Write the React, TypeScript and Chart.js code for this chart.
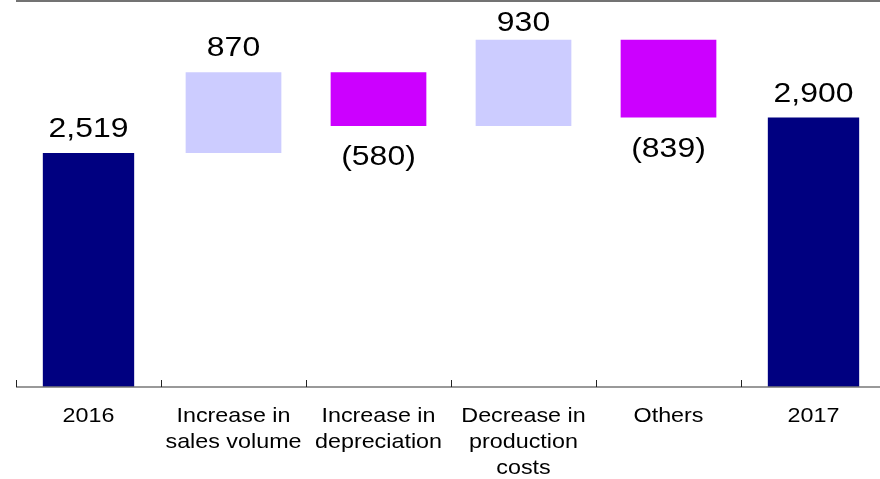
import React, { useEffect, useRef } from "react";
import { Chart, registerables } from "chart.js";

Chart.register(...registerables);

const categories: (string | string[])[] = [
  "2016",
  ["Increase in", "sales volume"],
  ["Increase in", "depreciation"],
  ["Decrease in", "production", "costs"],
  "Others",
  "2017",
];
const startTotal = 2519;
const endTotal = 2900;
const deltas = [870, -580, 930, -839];

const totalColor = "#000080";
const upColor = "#CCCCFF";
const downColor = "#CC00FF";

function fmt(v: number): string {
  const s = Math.abs(v).toLocaleString("en-US");
  return v < 0 ? `(${s})` : s;
}

export default function App() {
  const ref = useRef<HTMLCanvasElement | null>(null);

  useEffect(() => {
    if (!ref.current) return;
    const n = categories.length;
    const totals: ([number, number] | null)[] = new Array(n).fill(null);
    totals[0] = [0, startTotal];
    totals[n - 1] = [0, endTotal];
    const changes: ([number, number] | null)[] = new Array(n).fill(null);
    const changeColors: string[] = new Array(n).fill(upColor);
    const labels: string[] = new Array(n).fill("");
    labels[0] = fmt(startTotal);
    labels[n - 1] = fmt(endTotal);
    let run = startTotal;
    deltas.forEach((d, i) => {
      const next = run + d;
      changes[i + 1] = [Math.min(run, next), Math.max(run, next)];
      changeColors[i + 1] = d >= 0 ? upColor : downColor;
      labels[i + 1] = fmt(d);
      run = next;
    });
    const signs: number[] = [1, ...deltas.map((d) => (d >= 0 ? 1 : -1)), 1];

    const decor = {
      id: "decor",
      afterDraw(chart: any) {
        const ctx = chart.ctx;
        const a = chart.chartArea;
        const w = (a.right - a.left) / n;
        ctx.save();
        // top border line
        ctx.strokeStyle = "#444";
        ctx.lineWidth = 1.5;
        ctx.beginPath();
        ctx.moveTo(a.left, 1);
        ctx.lineTo(880, 1);
        ctx.stroke();
        // axis line
        ctx.strokeStyle = "#777";
        ctx.lineWidth = 1.5;
        ctx.beginPath();
        ctx.moveTo(a.left, a.bottom);
        ctx.lineTo(a.right, a.bottom);
        ctx.stroke();
        // tick marks (inward)
        ctx.strokeStyle = "#222";
        ctx.lineWidth = 1;
        for (let i = 0; i <= n; i++) {
          const x = Math.round(a.left + i * w) + 0.5;
          ctx.beginPath();
          ctx.moveTo(x, a.bottom - 7);
          ctx.lineTo(x, a.bottom);
          ctx.stroke();
        }
        ctx.fillStyle = "#000";
        ctx.textAlign = "center";
        ctx.textBaseline = "alphabetic";
        // category labels, drawn at the x scale's tick positions
        const xs = chart.scales.x;
        ctx.font = '21px "Liberation Sans", Arial, sans-serif';
        const cx = 1.11;
        categories.forEach((c, i) => {
          const lines = Array.isArray(c) ? c : [c];
          const x = xs.getPixelForTick(i);
          lines.forEach((ln, j) => {
            ctx.save();
            ctx.scale(cx, 1);
            ctx.fillText(ln, x / cx, a.bottom + 35 + j * 26);
            ctx.restore();
          });
        });
        // data labels
        ctx.font = '28px "Liberation Sans", Arial, sans-serif';
        const sx = 1.14;
        for (let di = 0; di < chart.data.datasets.length; di++) {
          const meta = chart.getDatasetMeta(di);
          meta.data.forEach((el: any, i: number) => {
            const raw = chart.data.datasets[di].data[i];
            if (!raw) return;
            const top = Math.min(el.y, el.base);
            const bottom = Math.max(el.y, el.base);
            let by: number;
            if (signs[i] >= 0) {
              by = Math.max(top - 16, 31);
            } else {
              by = bottom + 39;
            }
            ctx.save();
            ctx.scale(sx, 1);
            ctx.fillText(labels[i], el.x / sx, by);
            ctx.restore();
          });
        }
        ctx.restore();
      },
    };

    const chart = new Chart(ref.current, {
      type: "bar",
      data: {
        labels: categories as any,
        datasets: [
          {
            data: totals as any,
            backgroundColor: totalColor,
            barPercentage: 0.63,
            categoryPercentage: 1,
            grouped: false,
            borderWidth: 0,
          },
          {
            data: changes as any,
            backgroundColor: changeColors,
            barPercentage: 0.66,
            categoryPercentage: 1,
            grouped: false,
            borderWidth: 0,
          },
        ],
      },
      options: {
        responsive: false,
        animation: false,
        devicePixelRatio: 1,
        layout: { padding: { left: 16, right: 4, top: 1, bottom: 0 } },
        plugins: {
          legend: { display: false },
          tooltip: { enabled: false },
          title: { display: false },
        },
        scales: {
          x: {
            grid: { display: false, drawTicks: false },
            border: { display: false },
            ticks: { display: false },
            afterFit: (scale: any) => {
              scale.height = 92;
            },
          },
          y: {
            display: false,
            min: 0,
            max: 4155,
          },
        },
      },
      plugins: [decor],
    });
    return () => chart.destroy();
  }, []);

  return (
    <div
      style={{
        position: "absolute",
        left: 0,
        top: 0,
        width: 880,
        height: 479,
        overflow: "hidden",
        background: "#fff",
      }}
    >
      <canvas ref={ref} width={890} height={479} style={{ display: "block" }} />
    </div>
  );
}
